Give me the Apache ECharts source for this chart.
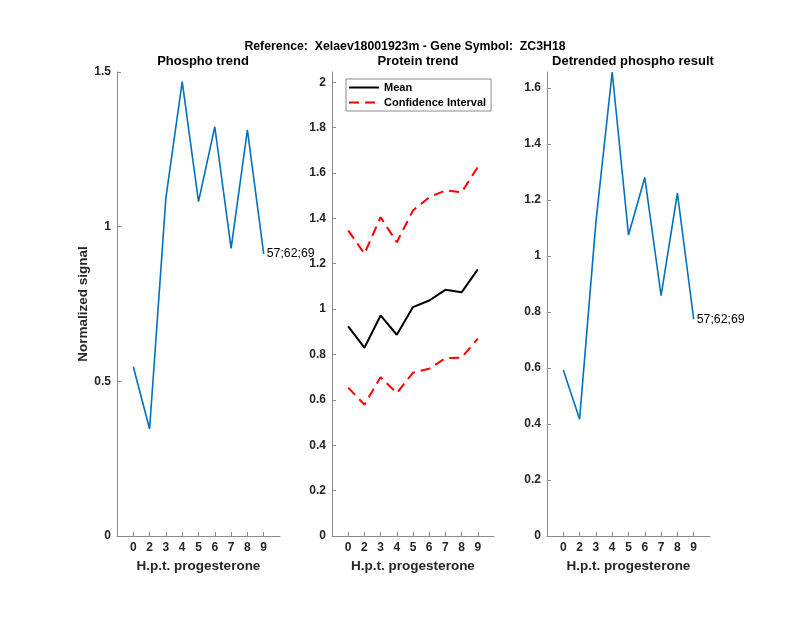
<!DOCTYPE html>
<html><head><meta charset="utf-8">
<script src="https://cdn.jsdelivr.net/npm/echarts@6/dist/echarts.min.js"></script>
<style>html,body{margin:0;padding:0;background:#fff}#c{width:800px;height:618px}</style>
</head><body><div id="c"></div>
<script>
const timeLabels = ['0','2','3','4','5','6','7','8','9'];
const phospho = [0.547, 0.346, 1.093, 1.469, 1.081, 1.323, 0.930, 1.313, 0.912];
const proteinMean = [0.924, 0.830, 0.972, 0.887, 1.009, 1.038, 1.085, 1.074, 1.175];
const ciUpper = [1.347, 1.244, 1.405, 1.295, 1.435, 1.493, 1.523, 1.515, 1.626];
const ciLower = [0.654, 0.579, 0.700, 0.630, 0.720, 0.737, 0.784, 0.786, 0.870];
const detrended = [0.593, 0.417, 1.121, 1.657, 1.075, 1.280, 0.858, 1.224, 0.774];
const peptideLabel = '57;62;69';
const ticks1 = [0, 0.5, 1, 1.5];
const ticks2 = [0, 0.2, 0.4, 0.6, 0.8, 1, 1.2, 1.4, 1.6, 1.8, 2];
const ticks3 = [0, 0.2, 0.4, 0.6, 0.8, 1, 1.2, 1.4, 1.6];

const FONT = 'Liberation Sans, Arial, Helvetica, sans-serif';
const AX = '#8c8c8c';
const TXT = '#262626';
const idx = timeLabels.map((_, i) => i);
const pairs = arr => arr.map((v, i) => [i, v]);
const labeled = arr => arr.map((v, i) => i === arr.length - 1
  ? {value: [i, v], label: {show: true, position: 'right', distance: 3, formatter: peptideLabel, color: '#000', fontFamily: FONT, fontSize: 12.3}}
  : [i, v]);

const grids = [
  {left: 117, width: 163, top: 72, height: 464},
  {left: 332, width: 162, top: 72, height: 464},
  {left: 547, width: 163, top: 72, height: 464}
];
const xAxes = grids.map((g, k) => ({
  type: 'value', gridIndex: k, min: -1, max: 9,
  name: 'H.p.t. progesterone', nameLocation: 'middle', nameGap: 23,
  nameTextStyle: {fontFamily: FONT, fontWeight: 'bold', fontSize: 13.5, color: TXT},
  axisLine: {show: true, onZero: false, lineStyle: {color: AX, width: 1}},
  axisTick: {show: true, inside: true, length: 4, lineStyle: {color: AX}, customValues: idx},
  axisLabel: {color: TXT, fontFamily: FONT, fontWeight: 'bold', fontSize: 12, margin: 6,
    customValues: idx, formatter: v => timeLabels[Math.round(v)] ?? ''},
  splitLine: {show: false}
}));
function yAxis(k, max, tks, name) {
  return {
    type: 'value', gridIndex: k, min: 0, max: max,
    name: name || '', nameLocation: 'middle', nameGap: 24,
    nameTextStyle: {fontFamily: FONT, fontWeight: 'bold', fontSize: 13.5, color: TXT},
    axisLine: {show: true, onZero: false, lineStyle: {color: AX, width: 1}},
    axisTick: {show: true, inside: true, length: 4, lineStyle: {color: AX}, customValues: tks},
    axisLabel: {color: TXT, fontFamily: FONT, fontWeight: 'bold', fontSize: 12, margin: 6,
      customValues: tks, formatter: v => String(+v.toFixed(2))},
    splitLine: {show: false}
  };
}
const yAxes = [yAxis(0, 1.5, ticks1, 'Normalized signal'), yAxis(1, 2.045, ticks2), yAxis(2, 1.657, ticks3)];

const titleStyle = {fontFamily: FONT, fontWeight: 'bold', fontSize: 13, color: '#000'};
const option = {
  animation: false,
  backgroundColor: '#fff',
  title: [
    {text: 'Reference:  Xelaev18001923m - Gene Symbol:  ZC3H18', left: 400, textAlign: 'center', top: 36, textStyle: Object.assign({}, titleStyle, {fontSize: 12.3})},
    {text: 'Phospho trend', left: 198, textAlign: 'center', top: 50, textStyle: titleStyle},
    {text: 'Protein trend', left: 413, textAlign: 'center', top: 50, textStyle: titleStyle},
    {text: 'Detrended phospho result', left: 628, textAlign: 'center', top: 50, textStyle: titleStyle}
  ],
  legend: {
    left: 346, top: 79, orient: 'vertical', itemGap: 4, itemWidth: 30, itemHeight: 12,
    padding: [3, 5, 3, 2],
    backgroundColor: '#fff', borderColor: '#8c8c8c', borderWidth: 1,
    itemStyle: {opacity: 0},
    textStyle: {fontFamily: FONT, fontWeight: 'bold', fontSize: 11, color: '#000'},
    data: ['Mean', 'Confidence Interval']
  },
  grid: grids,
  xAxis: xAxes,
  yAxis: yAxes,
  series: [
    {name: 'phospho', type: 'line', xAxisIndex: 0, yAxisIndex: 0, data: labeled(phospho), symbol: 'circle', symbolSize: 0, showSymbol: true,
      lineStyle: {color: '#0072BD', width: 1.6}, itemStyle: {color: '#0072BD'}},
    {name: 'Mean', type: 'line', xAxisIndex: 1, yAxisIndex: 1, data: pairs(proteinMean), symbol: 'circle', symbolSize: 0,
      lineStyle: {color: '#000', width: 2}, itemStyle: {color: '#000'}},
    {name: 'Confidence Interval', type: 'line', xAxisIndex: 1, yAxisIndex: 1, data: pairs(ciUpper), symbol: 'circle', symbolSize: 0,
      lineStyle: {color: '#ff0000', width: 2, type: [10, 6]}, itemStyle: {color: '#ff0000'}},
    {name: 'Confidence Interval', type: 'line', xAxisIndex: 1, yAxisIndex: 1, data: pairs(ciLower), symbol: 'circle', symbolSize: 0,
      lineStyle: {color: '#ff0000', width: 2, type: [10, 6]}, itemStyle: {color: '#ff0000'}},
    {name: 'detrended', type: 'line', xAxisIndex: 2, yAxisIndex: 2, data: labeled(detrended), symbol: 'circle', symbolSize: 0, showSymbol: true,
      lineStyle: {color: '#0072BD', width: 1.6}, itemStyle: {color: '#0072BD'}}
  ]
};
const chart = echarts.init(document.getElementById('c'), null, {renderer: 'canvas'});
chart.setOption(option);
</script></body></html>
